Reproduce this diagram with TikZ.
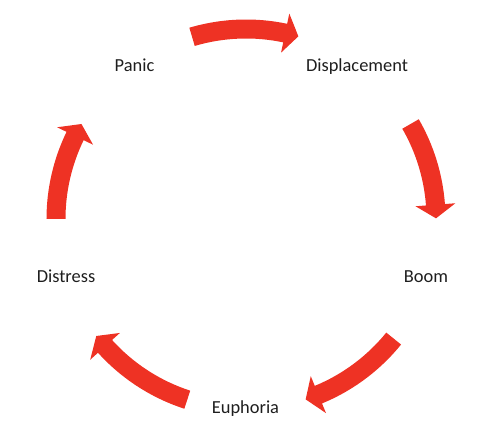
\documentclass[tikz,border=0pt]{standalone}
\usepackage{fontspec}
\setmainfont{Carlito}
\definecolor{arrowred}{RGB}{238,50,36}
\definecolor{labelgray}{RGB}{30,30,30}
\begin{document}
\begin{tikzpicture}[
  lbl/.style={anchor=base, font=\fontsize{18.4pt}{22pt}\selectfont, text=labelgray, inner sep=0pt},
  cyclearrow/.style={fill=arrowred}
]
\useasboundingbox (-246pt,-216pt) rectangle (232pt,219pt);
% labels
\node[lbl] (panic) at (-111.5pt,147pt) {Panic};
\node[lbl] (displacement) at (111pt,147pt) {Displacement};
\node[lbl] (boom) at (180pt,-64pt) {Boom};
\node[lbl] (euphoria) at (-0.5pt,-194pt) {Euphoria};
\node[lbl] (distress) at (-180pt,-64pt) {Distress};
% curved arrows (clockwise), tail angle / tip angle
\foreach \t/\h in {106.5/74, 30/0.2, -39/-71.7, -108/-142, 180/150}{
  \pgfmathsetmacro\b{\h+4.1}
  \fill[cyclearrow] (\t:180.5pt) arc[start angle=\t, end angle=\b, radius=180.5pt]
    -- (\b:170pt) -- (\h:190pt) -- (\b:210pt) -- (\b:199.5pt)
    arc[start angle=\b, end angle=\t, radius=199.5pt] -- cycle;
}
\end{tikzpicture}
\end{document}
